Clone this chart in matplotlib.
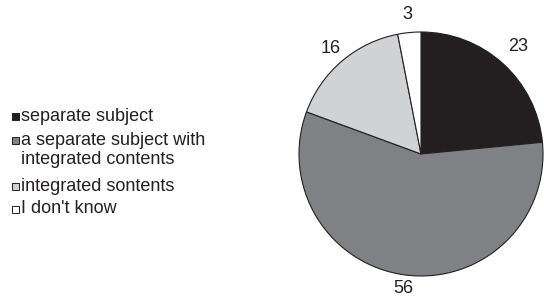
import matplotlib
matplotlib.use('Agg')
import numpy as np
import matplotlib.pyplot as plt
import matplotlib.patches as mpatches

# data
labels = ['separate subject',
          'a separate subject with\nintegrated contents',
          'integrated sontents',
          "I don't know"]
values = [23, 56, 16, 3]
colors = ['#231f20', '#808184', '#d1d2d4', '#ffffff']

W, H = 544, 299
plt.rcParams['font.family'] = ['Liberation Sans', 'DejaVu Sans']

fig = plt.figure(figsize=(W / 100, H / 100), dpi=100)


def fx(px):
    return px / W


def fy(py):
    return 1 - py / H


# pie: centre about (421, 154) px, radius 122 px
cx, cy, r = 421, 154, 122
ax = fig.add_axes([fx(cx - r), fy(cy + r), 2 * r / W, 2 * r / H])
wedges, _ = ax.pie(values, colors=colors, startangle=90, counterclock=False,
                   wedgeprops=dict(edgecolor='#231f20', linewidth=0.8))
# value labels just outside each wedge
label_dist = [1.19, 1.11, 1.14, 1.15]
for w, v, d in zip(wedges, values, label_dist):
    mid = np.deg2rad((w.theta1 + w.theta2) / 2)
    ax.text(d * np.cos(mid), d * np.sin(mid), str(v), fontsize=13,
            color='#231f20', ha='center', va='center')
ax.set_xlim(-1, 1)
ax.set_ylim(-1, 1)
ax.set_aspect('auto')
ax.axis('off')

# legend drawn by hand, rows as in the reference
baselines = [[121], [145, 164], [191], [213]]
box_tops = [113, 137, 183, 206]
box = 7
for lab, col, bl, top in zip(labels, colors, baselines, box_tops):
    fig.patches.append(mpatches.Rectangle(
        (fx(12), fy(top + box)), box / W, box / H, transform=fig.transFigure,
        facecolor=col, edgecolor='#231f20', linewidth=0.7))
    for line, b in zip(lab.split('\n'), bl):
        fig.text(fx(21), fy(b), line, fontsize=13, color='#231f20',
                 ha='left', va='baseline')

fig.savefig('out.png', dpi=100)
